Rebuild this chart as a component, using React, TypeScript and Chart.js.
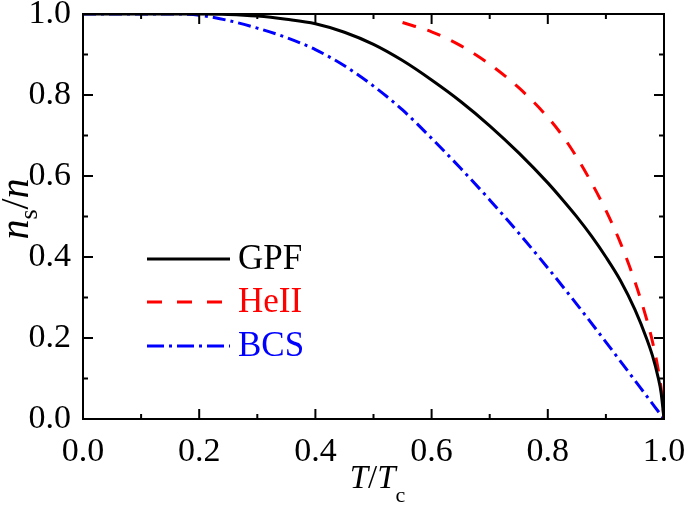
import React, { useEffect, useRef } from "react";
import { Chart, registerables } from "chart.js";

Chart.register(...registerables);

// ---- data ----
const GPF_T = [0, 0.1, 0.2, 0.25, 0.3, 0.35, 0.4, 0.45, 0.5, 0.55, 0.6, 0.65, 0.7, 0.75, 0.8, 0.825, 0.85, 0.875, 0.9, 0.925, 0.95, 0.97, 0.98, 0.99, 0.995, 1.0];
const GPF_N = [1, 1, 1, 0.999, 0.995, 0.987, 0.976, 0.955, 0.925, 0.885, 0.837, 0.784, 0.724, 0.657, 0.583, 0.542, 0.499, 0.452, 0.4, 0.342, 0.27, 0.199, 0.157, 0.102, 0.065, 0.0];

const HEII_T = [0.55, 0.6, 0.65, 0.7, 0.75, 0.8, 0.825, 0.85, 0.875, 0.9, 0.925, 0.95, 0.97, 0.98, 0.99, 0.996, 1.0];
const HEII_N = [0.979, 0.956, 0.922, 0.876, 0.818, 0.745, 0.7, 0.646, 0.584, 0.515, 0.435, 0.339, 0.247, 0.192, 0.122, 0.065, 0.0];

const BCS_T = [0, 0.1, 0.15, 0.2, 0.25, 0.3, 0.35, 0.4, 0.45, 0.5, 0.55, 0.6, 0.65, 0.7, 0.75, 0.8, 0.85, 0.9, 0.95, 1.0];
const BCS_N = [1, 1, 1, 0.997, 0.984, 0.965, 0.942, 0.912, 0.872, 0.822, 0.763, 0.693, 0.619, 0.541, 0.459, 0.373, 0.283, 0.19, 0.095, 0.0];

const SERIES_LABELS = ["GPF", "HeII", "BCS"];
const SERIES_COLORS = ["#000000", "#ff0000", "#0000ff"];

const AXIS_MIN = 0;
const AXIS_MAX = 1;
const MAJOR_STEP = 0.2;
const MINOR_STEP = 0.1;

const SERIF = '"Liberation Serif", "Times New Roman", serif';

function pts(xs: number[], ys: number[]) {
  return xs.map((x, i) => ({ x, y: ys[i] }));
}

const decorPlugin = {
  id: "decor",
  afterDraw(chart: any) {
    const { ctx, chartArea: a, scales } = chart;
    const xs = scales.x;
    const ys = scales.y;
    ctx.save();
    ctx.strokeStyle = "#000";
    ctx.lineWidth = 2;
    ctx.setLineDash([]);
    ctx.strokeRect(a.left, a.top, a.right - a.left, a.bottom - a.top);

    const line = (x1: number, y1: number, x2: number, y2: number) => {
      ctx.beginPath();
      ctx.moveTo(x1, y1);
      ctx.lineTo(x2, y2);
      ctx.stroke();
    };
    const n = Math.round((AXIS_MAX - AXIS_MIN) / MINOR_STEP);
    for (let i = 0; i <= n; i++) {
      const v = AXIS_MIN + i * MINOR_STEP;
      const major = Math.abs(v / MAJOR_STEP - Math.round(v / MAJOR_STEP)) < 1e-6;
      const len = major ? 10 : 5;
      const px = xs.getPixelForValue(v);
      line(px, a.bottom, px, a.bottom - len);
      line(px, a.top, px, a.top + len);
      const py = ys.getPixelForValue(v);
      line(a.left, py, a.left + len, py);
      line(a.right, py, a.right - len, py);
    }

    // x title: T/Tc
    ctx.fillStyle = "#000";
    ctx.textBaseline = "alphabetic";
    ctx.textAlign = "left";
    const big = 33;
    const sub = 22;
    const partsX = [
      { t: "T", f: `italic ${big}px ${SERIF}`, dy: 0 },
      { t: "/", f: `${big}px ${SERIF}`, dy: 0 },
      { t: "T", f: `italic ${big}px ${SERIF}`, dy: 0 },
      { t: "c", f: `${sub}px ${SERIF}`, dy: 14 },
    ];
    let wx = 0;
    partsX.forEach((p) => {
      ctx.font = p.f;
      wx += ctx.measureText(p.t).width;
    });
    let cx = (a.left + a.right) / 2 - wx / 2 + 4;
    partsX.forEach((p) => {
      ctx.font = p.f;
      ctx.fillText(p.t, cx, 488 + p.dy);
      cx += ctx.measureText(p.t).width;
    });

    // y title: ns/n (rotated)
    const bigY = 40;
    const subY = 26;
    const partsY = [
      { t: "n", f: `italic ${bigY}px ${SERIF}`, dy: 0 },
      { t: "s", f: `${subY}px ${SERIF}`, dy: 9 },
      { t: "/", f: `${bigY}px ${SERIF}`, dy: 0 },
      { t: "n", f: `italic ${bigY}px ${SERIF}`, dy: 0 },
    ];
    let wy = 0;
    partsY.forEach((p) => {
      ctx.font = p.f;
      wy += ctx.measureText(p.t).width;
    });
    ctx.save();
    ctx.translate(28, 209 + wy / 2);
    ctx.rotate(-Math.PI / 2);
    let cu = 0;
    partsY.forEach((p) => {
      ctx.font = p.f;
      ctx.fillText(p.t, cu, p.dy);
      cu += ctx.measureText(p.t).width;
    });
    ctx.restore();

    // legend
    const legendYs = [259, 302, 346];
    chart.data.datasets.forEach((ds: any, i: number) => {
      const yy = legendYs[i];
      ctx.strokeStyle = ds.borderColor;
      ctx.lineWidth = ds.borderWidth;
      ctx.setLineDash(ds.legendDash || []);
      line(147, yy, 230, yy);
      ctx.setLineDash([]);
      ctx.fillStyle = ds.borderColor;
      ctx.font = `35px ${SERIF}`;
      ctx.textBaseline = "middle";
      ctx.fillText(ds.label, 238, yy + 1);
    });
    ctx.restore();
  },
};

export default function App() {
  const ref = useRef<HTMLCanvasElement | null>(null);

  useEffect(() => {
    if (!ref.current) return;
    const chart = new Chart(ref.current, {
      type: "line",
      data: {
        datasets: [
          {
            label: SERIES_LABELS[0],
            data: pts(GPF_T, GPF_N),
            borderColor: SERIES_COLORS[0],
            borderWidth: 3,
            pointRadius: 0,
            cubicInterpolationMode: "monotone",
            fill: false,
            legendDash: [],
          } as any,
          {
            label: SERIES_LABELS[1],
            data: pts(HEII_T, HEII_N),
            borderColor: SERIES_COLORS[1],
            borderWidth: 3,
            borderDash: [14, 12],
            pointRadius: 0,
            cubicInterpolationMode: "monotone",
            fill: false,
            legendDash: [15, 15],
          } as any,
          {
            label: SERIES_LABELS[2],
            data: pts(BCS_T, BCS_N),
            borderColor: SERIES_COLORS[2],
            borderWidth: 3,
            borderDash: [13, 5, 3, 5],
            pointRadius: 0,
            cubicInterpolationMode: "monotone",
            fill: false,
            legendDash: [17, 5, 3, 5],
          } as any,
        ],
      },
      options: {
        animation: false,
        responsive: true,
        maintainAspectRatio: false,
        layout: { padding: { left: 0, top: 14, right: 21, bottom: 0 } },
        plugins: {
          legend: { display: false },
          tooltip: { enabled: false },
        },
        scales: {
          x: {
            type: "linear",
            min: AXIS_MIN,
            max: AXIS_MAX,
            grid: { display: false, drawTicks: false },
            border: { display: false },
            ticks: {
              stepSize: MAJOR_STEP,
              padding: 13,
              color: "#000",
              font: { family: SERIF, size: 34 },
              maxRotation: 0,
              autoSkip: false,
              callback: (v: any) => Number(v).toFixed(1),
            },
            afterFit: (s: any) => {
              s.height = 86;
              s.paddingLeft = 0;
              s.paddingRight = 0;
            },
          },
          y: {
            type: "linear",
            min: AXIS_MIN,
            max: AXIS_MAX,
            grid: { display: false, drawTicks: false },
            border: { display: false },
            ticks: {
              stepSize: MAJOR_STEP,
              padding: 12,
              color: "#000",
              font: { family: SERIF, size: 34 },
              autoSkip: false,
              callback: (v: any) => Number(v).toFixed(1),
            },
            afterFit: (s: any) => {
              s.width = 83;
              s.paddingTop = 0;
              s.paddingBottom = 0;
            },
          },
        },
      },
      plugins: [decorPlugin],
    });
    return () => chart.destroy();
  }, []);

  return (
    <div style={{ position: "absolute", left: 0, top: 0, width: 685, height: 505, background: "#fff" }}>
      <canvas ref={ref} />
    </div>
  );
}
